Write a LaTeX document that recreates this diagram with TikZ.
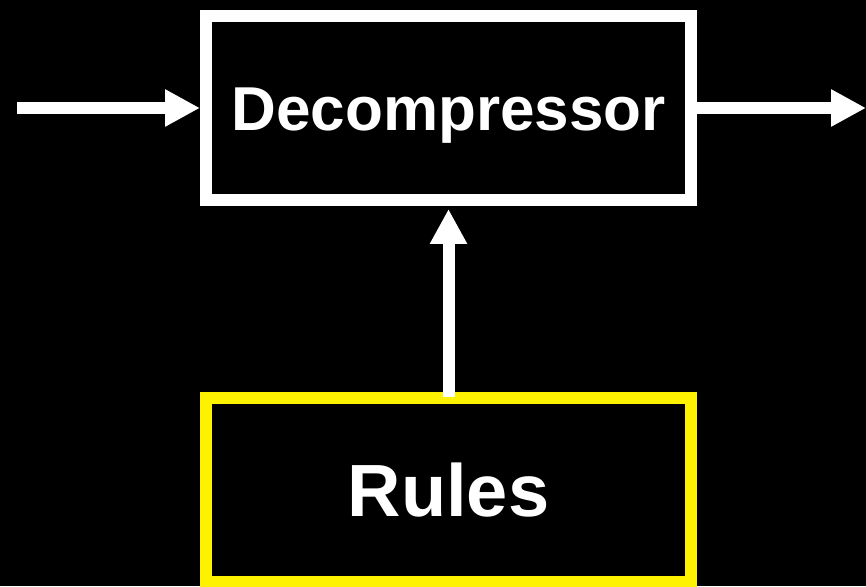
\documentclass[tikz,border=0pt]{standalone}
\usepackage{fontspec}
\setmainfont{Liberation Sans}
\usetikzlibrary{arrows.meta}
\begin{document}
\begin{tikzpicture}[x=1pt,y=1pt,
  blockbox/.style={draw=#1, line width=12pt, rectangle, minimum width=485pt,
    minimum height=184pt, inner sep=0pt, text=white, font=\bfseries,
    text depth=0pt},
  flow/.style={draw=white, line width=12pt,
    -{Triangle[length=35pt,width=35pt]}, fill=white}
]
  % canvas
  \fill[black] (0,0) rectangle (866,586);
  \useasboundingbox (0,0) rectangle (866,586);

  % blocks
  \node[blockbox=white, text height=45pt] (dec) at (448.5,478)
    {\fontsize{62}{62}\selectfont Decompressor};
  \node[blockbox=yellow, text height=53pt] (rules) at (448.5,96)
    {\fontsize{74}{74}\selectfont Rules};

  % free ends of the input and output lines
  \coordinate (src) at (17,478);
  \coordinate (dst) at (866,478);

  % connectors
  \draw[flow] (src) -- (dec.west);
  \draw[flow] (dec.east) -- (dst);
  \draw[flow] ([yshift=-5pt]rules.north) -- ([yshift=-3pt]dec.south);
\end{tikzpicture}
\end{document}
